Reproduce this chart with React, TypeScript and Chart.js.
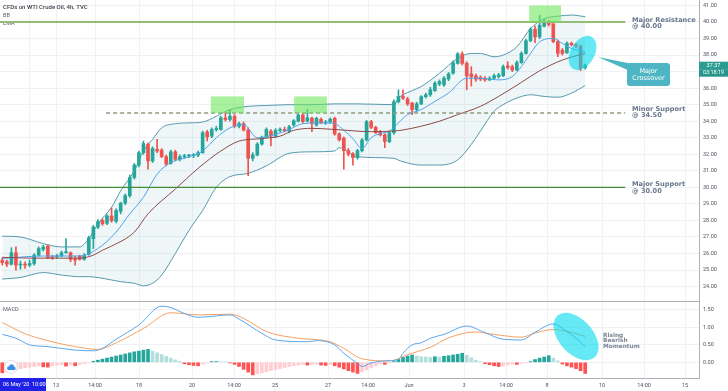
import React, { useEffect, useRef } from 'react';
import { Chart, registerables } from 'chart.js';

Chart.register(...registerables);

// ---------------- data ----------------
const opens = [
  25.60, 25.50, 25.35, 26.05, 25.30, 25.35, 25.30, 25.40, 25.90, 26.25,
  26.45, 25.80, 25.80, 25.85, 26.05, 26.05, 25.65, 25.85, 25.65, 25.95,
  26.90, 27.60, 28.00, 27.83, 28.27, 27.95, 28.55, 29.05, 29.50, 30.60,
  31.35, 32.10, 32.60, 31.60, 32.30, 32.25, 31.86, 31.45, 32.15, 31.70,
  31.85, 31.90, 31.92, 31.95, 32.10, 33.35, 33.10, 33.50, 33.50, 34.20,
  34.10, 34.30, 33.70, 33.85, 33.47, 31.76, 31.96, 32.62, 33.05, 33.40,
  33.10, 33.45, 33.50, 33.40, 33.77, 34.00, 34.38, 34.01, 34.18, 33.77,
  34.12, 33.90, 33.95, 34.18, 33.23, 32.97, 32.22, 32.04, 31.80, 32.22,
  32.87, 33.97, 33.63, 33.35, 33.17, 32.77, 33.31, 35.18, 35.50, 35.35,
  35.10, 34.70, 35.05, 35.48, 35.60, 35.85, 36.25, 36.20, 36.55, 36.90,
  37.50, 38.07, 37.50, 36.86, 36.74, 36.65, 36.60, 36.50, 36.60, 36.70,
  36.75, 37.35, 37.30, 37.10, 37.54, 38.10, 38.87, 39.56, 39.10, 39.75,
  40.05, 39.88, 38.81, 38.30, 38.14, 38.71, 38.62, 38.55, 37.25,
];
const highs = [
  25.75, 25.60, 26.35, 26.40, 25.55, 25.50, 25.60, 26.00, 26.40, 26.50,
  26.50, 25.90, 25.95, 26.15, 26.90, 26.10, 25.85, 25.90, 26.00, 27.05,
  27.70, 28.05, 28.10, 28.35, 28.75, 28.70, 29.10, 29.60, 30.75, 31.45,
  32.20, 32.80, 32.70, 32.45, 32.90, 32.35, 31.95, 32.25, 32.25, 31.95,
  32.00, 32.00, 32.05, 32.20, 33.40, 33.45, 33.60, 33.70, 34.30, 34.55,
  34.70, 34.40, 33.95, 33.95, 33.60, 32.10, 32.70, 33.10, 33.60, 33.50,
  33.55, 33.60, 33.65, 33.75, 34.10, 34.45, 34.45, 34.72, 34.25, 34.25,
  34.20, 34.05, 34.20, 34.25, 33.30, 33.05, 32.35, 32.10, 32.30, 32.95,
  34.05, 34.05, 33.70, 33.45, 33.25, 33.40, 35.30, 35.90, 35.90, 35.45,
  35.15, 35.15, 35.55, 35.70, 36.05, 36.40, 36.50, 36.70, 36.95, 37.65,
  38.15, 38.20, 37.60, 37.30, 36.85, 36.75, 36.70, 36.70, 36.85, 36.90,
  37.40, 37.60, 37.40, 37.65, 38.20, 38.95, 39.65, 39.75, 40.40, 40.20,
  40.10, 39.95, 38.90, 38.40, 38.80, 38.80, 38.70, 38.60, 37.45,
];
const lows = [
  25.30, 25.20, 25.30, 25.00, 25.05, 25.10, 25.20, 25.30, 25.85, 26.15,
  25.70, 25.65, 25.70, 25.80, 26.00, 25.50, 25.30, 25.60, 25.60, 25.90,
  26.30, 27.50, 27.70, 27.75, 27.90, 27.85, 28.40, 28.95, 29.40, 30.50,
  31.25, 32.00, 31.10, 31.50, 32.10, 31.80, 31.30, 31.40, 31.60, 31.60,
  31.75, 31.80, 31.80, 31.85, 32.05, 32.80, 33.00, 33.40, 33.45, 34.00,
  34.00, 33.60, 33.60, 33.40, 30.70, 31.60, 31.90, 32.55, 33.00, 32.50,
  33.00, 33.35, 33.35, 33.30, 33.70, 33.95, 33.90, 33.95, 33.37, 33.70,
  33.85, 33.80, 33.90, 33.15, 32.80, 31.10, 31.90, 31.35, 31.70, 32.15,
  32.80, 33.55, 33.25, 33.10, 32.40, 32.70, 33.20, 35.10, 35.30, 34.95,
  34.40, 34.60, 35.00, 35.40, 35.50, 35.80, 36.15, 36.10, 36.45, 36.85,
  37.45, 37.40, 35.90, 36.13, 36.40, 36.45, 36.40, 36.45, 36.55, 36.60,
  36.70, 37.15, 37.00, 37.05, 37.50, 38.05, 38.80, 38.75, 39.00, 39.70,
  39.75, 38.75, 37.90, 38.00, 38.10, 38.55, 38.45, 37.06, 37.15,
];
const closes = [
  25.45, 25.35, 26.05, 25.30, 25.35, 25.30, 25.40, 25.90, 26.30, 26.40,
  25.75, 25.75, 25.85, 26.05, 26.10, 25.65, 25.60, 25.65, 25.90, 26.95,
  27.60, 27.93, 27.80, 28.27, 27.98, 28.60, 29.05, 29.50, 30.60, 31.35,
  32.10, 32.65, 31.60, 32.35, 32.20, 31.86, 31.41, 32.15, 31.70, 31.85,
  31.90, 31.92, 31.95, 32.10, 33.30, 33.05, 33.50, 33.55, 34.20, 34.10,
  34.30, 33.70, 33.85, 33.47, 31.76, 31.96, 32.62, 33.03, 33.50, 33.10,
  33.45, 33.50, 33.42, 33.67, 34.03, 34.38, 33.97, 34.21, 33.87, 34.18,
  33.90, 33.95, 34.12, 33.23, 32.87, 32.22, 32.02, 31.80, 32.22, 32.87,
  33.97, 33.63, 33.31, 33.17, 32.77, 33.31, 35.18, 35.50, 35.40, 35.05,
  34.70, 35.05, 35.48, 35.60, 35.90, 36.30, 36.40, 36.60, 36.86, 37.54,
  38.07, 37.50, 36.74, 36.69, 36.54, 36.55, 36.50, 36.60, 36.75, 36.80,
  37.30, 37.25, 37.10, 37.54, 38.10, 38.87, 39.56, 39.10, 39.80, 40.05,
  39.85, 38.81, 38.10, 38.10, 38.71, 38.62, 38.55, 37.20, 37.37,
];

// Bollinger bands (read at sampled bars)
const bandIdx = [0, 4, 9, 13, 17, 19, 21, 24, 26, 29, 31, 33, 35, 38, 41, 44, 47, 50, 54, 58, 63, 68, 73, 74, 78, 86, 87, 88, 92, 96, 100, 103, 105, 108, 110, 113, 116, 119, 122, 125, 128];
const upperVal = [27.05, 27.0, 26.6, 26.4, 26.4, 26.9, 27.8, 28.8, 29.8, 31.0, 32.2, 32.9, 33.6, 33.85, 33.9, 33.95, 34.3, 34.7, 34.9, 34.95, 35.0, 35.0, 35.05, 35.05, 35.05, 35.0, 35.4, 35.6, 36.1, 36.9, 37.8, 38.1, 38.1, 37.9, 38.0, 38.5, 39.6, 40.2, 40.35, 40.42, 40.32];
const lowerVal = [24.46, 24.55, 24.85, 24.7, 24.6, 24.6, 24.55, 24.4, 24.3, 24.2, 24.05, 24.2, 24.7, 26.0, 27.4, 28.6, 30.0, 30.65, 30.85, 31.3, 32.06, 32.15, 32.2, 32.4, 31.85, 31.76, 31.65, 31.55, 31.35, 31.35, 31.66, 32.6, 33.4, 34.6, 35.0, 35.4, 35.6, 35.5, 35.45, 35.7, 36.15];
const basisIdx = [0, 7, 17, 20, 22, 24, 29, 32, 38, 43, 48, 52, 57, 61, 64, 68, 73, 81, 86, 88, 92, 96, 100, 105, 109, 114, 118, 123, 128];
const basisVal = [25.77, 25.72, 25.72, 25.9, 26.2, 26.45, 27.3, 28.4, 29.9, 31.15, 32.2, 32.8, 32.95, 33.1, 33.45, 33.57, 33.5, 33.37, 33.41, 33.47, 33.7, 34.0, 34.4, 34.9, 35.5, 36.35, 37.05, 37.7, 38.1];
const emaIdx = [0, 9, 17, 21, 25, 28, 31, 34, 37, 41, 44, 47, 50, 53, 56, 60, 63, 66, 70, 73, 75, 77, 79, 81, 83, 85, 87, 89, 92, 95, 98, 102, 105, 109, 112, 114, 116, 118, 121, 123, 125, 128];
const emaVal = [25.7, 25.85, 25.85, 26.3, 27.3, 28.4, 29.4, 30.8, 31.5, 31.85, 32.2, 33.0, 33.6, 33.8, 33.0, 33.2, 33.5, 33.85, 33.9, 33.85, 33.45, 32.95, 32.35, 33.0, 33.25, 33.4, 33.9, 34.4, 34.7, 35.2, 35.7, 36.6, 36.6, 36.5, 36.7, 37.3, 38.1, 38.8, 39.0, 38.7, 38.4, 38.2];

// MACD pane
const histVals = [
  -0.30, -0.27, -0.24, -0.21, -0.18, -0.16, -0.14, -0.12, -0.10, -0.13,
  -0.14, -0.10, -0.08, -0.07, -0.11, -0.07, -0.10, -0.06, -0.04, -0.02,
  0.03, 0.06, 0.09, 0.12, 0.15, 0.18, 0.21, 0.24, 0.27, 0.30,
  0.32, 0.35, 0.37, 0.32, 0.27, 0.22, 0.17, 0.12, 0.07, 0.03,
  -0.04, -0.07, -0.09, -0.10, -0.05, -0.02, 0.02, 0.02, 0.015, 0.01,
  -0.02, -0.06, -0.12, -0.20, -0.28, -0.36, -0.33, -0.30, -0.27, -0.24,
  -0.21, -0.18, -0.15, -0.12, -0.10, -0.08, -0.06, -0.08, -0.06, -0.05,
  -0.08, -0.09, -0.06, -0.10, -0.14, -0.19, -0.24, -0.28, -0.32, -0.27,
  -0.22, -0.16, -0.10, -0.05, -0.06, -0.02, 0.02, 0.08, 0.14, 0.18,
  0.21, 0.18, 0.16, 0.15, 0.14, 0.16, 0.15, 0.17, 0.19, 0.21,
  0.23, 0.26, 0.20, 0.13, 0.06, 0.02, -0.04, -0.07, -0.10, -0.12,
  -0.11, -0.08, -0.05, -0.06, -0.03, -0.01, 0.02, 0.08, 0.12, 0.15,
  0.19, 0.12, 0.04, -0.05, -0.10, -0.14, -0.18, -0.24, -0.32,
];
const macdIdx = [0, 3, 6, 10, 16, 20, 22, 25, 30, 35, 37, 40, 43, 47, 50, 52, 57, 60, 67, 69, 73, 75, 78, 79, 81, 84, 87, 88, 90, 92, 94, 97, 102, 106, 110, 114, 117, 121, 124, 126, 128];
const macdVal = [0.80, 0.69, 0.50, 0.45, 0.35, 0.33, 0.40, 0.66, 1.07, 1.61, 1.57, 1.40, 1.29, 1.33, 1.36, 1.24, 0.83, 0.64, 0.59, 0.62, 0.50, 0.26, -0.03, -0.12, -0.02, 0.04, 0.08, 0.26, 0.50, 0.56, 0.69, 0.80, 1.04, 0.85, 0.66, 0.64, 0.86, 1.10, 0.88, 0.69, 0.45];
const signalIdx = [0, 5, 10, 16, 21, 25, 31, 37, 43, 50, 53, 58, 65, 72, 75, 79, 85, 89, 94, 98, 104, 108, 114, 117, 121, 124, 128];
const signalVal = [1.14, 0.82, 0.62, 0.45, 0.37, 0.56, 0.97, 1.42, 1.36, 1.38, 1.26, 0.88, 0.69, 0.59, 0.40, 0.10, 0.04, 0.22, 0.43, 0.70, 0.87, 0.80, 0.72, 0.84, 0.94, 0.89, 0.74];

// axes
const tickPos = [5.87, 11.8, 20.37, 30.03, 41.67, 50.89, 59.9, 71.54, 80.33, 89.33, 101.41, 110.64, 119.64, 131.72, 140.94, 149.95];
const tickLabels = ['12', '13', '14:00', '18', '20', '14:00', '25', '27', '14:00', 'Jun', '3', '14:00', '8', '10', '14:00', '15'];
const priceTicks = [24, 25, 26, 27, 28, 29, 30, 31, 32, 33, 34, 35, 36, 37, 38, 39, 40, 41];
const macdTicks = [0, 0.5, 1, 1.5];

// horizontal levels and highlighted zones
const levelValues = [40, 34.5, 30];
const levelStart = [-0.5, 22.8, -0.5];
const levelEnd = [136.8, 136.8, 136.8];
const zoneStart = [45.8, 64.1, 115.7];
const zoneEnd = [53.1, 71.3, 122.7];
const zoneLow = [34.5, 34.5, 40];
const zoneHigh = [35.5, 35.5, 41];

// ---------------- style ----------------
const UP = '#26a69a';
const DOWN = '#ef5350';
const FONT = 'Roboto, "DejaVu Sans", sans-serif';
const ANN_FONT = '"DejaVu Sans", sans-serif';
const AX_TEXT = '#50535e';
const GRID = '#eff1f5';
const BORDER = '#aeb1ba';
const X_MIN = -0.5;
const X_MAX = 153.0;

const idx = opens.map((_, i) => i);
const pts = (xs: number[], ys: number[]) => xs.map((x, i) => ({ x, y: ys[i] }));
const candleColor = (i: number) => (closes[i] >= opens[i] ? UP : DOWN);
const histColor = (i: number) => {
  const v = histVals[i];
  const p = i > 0 ? histVals[i - 1] : 0;
  if (v >= 0) return v >= p ? '#26a69a' : '#b2dfdb';
  return v < p ? '#ff5252' : '#ffcdd2';
};

function zeroPad(ax: any) {
  ax.paddingTop = 0;
  ax.paddingBottom = 0;
  ax.paddingLeft = 0;
  ax.paddingRight = 0;
}

function rrect(ctx: any, x: number, y: number, w: number, h: number, r: number) {
  ctx.beginPath();
  ctx.moveTo(x + r, y);
  ctx.lineTo(x + w - r, y);
  ctx.quadraticCurveTo(x + w, y, x + w, y + r);
  ctx.lineTo(x + w, y + h - r);
  ctx.quadraticCurveTo(x + w, y + h, x + w - r, y + h);
  ctx.lineTo(x + r, y + h);
  ctx.quadraticCurveTo(x, y + h, x, y + h - r);
  ctx.lineTo(x, y + r);
  ctx.quadraticCurveTo(x, y, x + r, y);
  ctx.closePath();
}

const mainDecor = {
  id: 'mainDecor',
  beforeDatasetsDraw(chart: any) {
    const ctx = chart.ctx;
    ctx.save();
    ctx.textBaseline = 'middle';
    ctx.textAlign = 'left';
    ctx.font = `500 6px ${FONT}`;
    ctx.fillStyle = '#3a3d45';
    ctx.fillText('CFDs on WTI Crude Oil, 4h, TVC', 3, 7.5);
    ctx.font = `5.5px ${FONT}`;
    ctx.fillStyle = '#5d606b';
    ctx.fillText('BB', 3, 15.5);
    ctx.fillText('EMA', 3, 23.5);
    ctx.restore();
  },
  afterDatasetsDraw(chart: any) {
    const { ctx, scales } = chart;
    const xs = scales.x;
    const ys = scales.y;
    ctx.save();
    // highlighted zones
    ctx.fillStyle = 'rgba(112, 232, 92, 0.6)';
    for (let k = 0; k < zoneStart.length; k++) {
      const x0 = xs.getPixelForValue(zoneStart[k]);
      const x1 = xs.getPixelForValue(zoneEnd[k]);
      const y0 = ys.getPixelForValue(zoneHigh[k]);
      const y1 = ys.getPixelForValue(zoneLow[k]);
      ctx.fillRect(x0, y0, x1 - x0, y1 - y0);
    }
    // crossover ellipse
    ctx.beginPath();
    ctx.ellipse(582.5, 53, 18.5, 12, -Math.PI / 3, 0, Math.PI * 2);
    ctx.fillStyle = 'rgba(0, 218, 238, 0.6)';
    ctx.fill();
    // callout
    ctx.fillStyle = '#4db5c3';
    ctx.beginPath();
    ctx.moveTo(598, 57);
    ctx.lineTo(630, 63.5);
    ctx.lineTo(630, 71);
    ctx.closePath();
    ctx.fill();
    rrect(ctx, 627, 63, 43, 23, 3);
    ctx.fill();
    ctx.fillStyle = '#ffffff';
    ctx.textAlign = 'center';
    ctx.textBaseline = 'middle';
    ctx.font = `6.5px ${ANN_FONT}`;
    ctx.fillText('Major', 648.5, 71);
    ctx.fillText('Crossover', 648.5, 78.5);
    // level labels
    ctx.textAlign = 'left';
    ctx.fillStyle = '#67768a';
    ctx.font = `bold 6.6px ${ANN_FONT}`;
    ctx.fillText('Major Resistance', 632, 20);
    ctx.fillText('@ 40.00', 632, 26.7);
    ctx.fillText('Minor Support', 632, 109);
    ctx.fillText('@ 34.50', 632, 115.5);
    ctx.fillText('Major Support', 632, 184.3);
    ctx.fillText('@ 30.00', 632, 190.8);
    ctx.restore();
  },
  afterDraw(chart: any) {
    const { ctx, scales } = chart;
    const py = scales.y.getPixelForValue(closes[closes.length - 1]);
    const left = chart.chartArea.right;
    const w = chart.width - left;
    ctx.save();
    ctx.fillStyle = '#2a9d90';
    ctx.fillRect(left, py - 3.8, w, 7.5);
    ctx.fillStyle = '#26968a';
    ctx.fillRect(left, py + 3.7, w, 7.5);
    ctx.fillStyle = '#ffffff';
    ctx.font = `5.5px ${FONT}`;
    ctx.textAlign = 'center';
    ctx.textBaseline = 'middle';
    ctx.fillText(closes[closes.length - 1].toFixed(2), left + w / 2, py);
    ctx.fillText('03:18:19', left + w / 2, py + 7.5);
    ctx.restore();
  },
};

const macdDecor = {
  id: 'macdDecor',
  afterDatasetsDraw(chart: any) {
    const ctx = chart.ctx;
    ctx.save();
    ctx.font = `5.5px ${FONT}`;
    ctx.fillStyle = '#5d606b';
    ctx.textBaseline = 'middle';
    ctx.textAlign = 'left';
    ctx.fillText('MACD', 3, 7.5);
    // momentum ellipse
    ctx.beginPath();
    ctx.ellipse(576, 34.5, 28, 17, (48 * Math.PI) / 180, 0, Math.PI * 2);
    ctx.fillStyle = 'rgba(0, 218, 238, 0.6)';
    ctx.fill();
    ctx.fillStyle = '#7a8594';
    ctx.font = `bold 5.8px ${ANN_FONT}`;
    ctx.fillText('Rising', 603, 33);
    ctx.fillText('Bearish', 603, 38.7);
    ctx.fillText('Momentum', 603, 44.3);
    // cloud badge
    ctx.beginPath();
    ctx.arc(11, 65, 6.5, 0, Math.PI * 2);
    ctx.fillStyle = '#ffffff';
    ctx.fill();
    ctx.strokeStyle = '#d5d8de';
    ctx.lineWidth = 0.8;
    ctx.stroke();
    ctx.fillStyle = '#3b8fe8';
    ctx.beginPath();
    ctx.arc(9, 66.2, 1.9, 0, Math.PI * 2);
    ctx.arc(11.6, 64.8, 2.5, 0, Math.PI * 2);
    ctx.arc(14, 66.4, 1.7, 0, Math.PI * 2);
    ctx.fill();
    ctx.fillRect(8.8, 66.2, 5.4, 1.9);
    ctx.restore();
  },
  afterDraw(chart: any) {
    const ctx = chart.ctx;
    const top = chart.chartArea.bottom;
    ctx.save();
    ctx.fillStyle = '#1f22e6';
    ctx.fillRect(0, top, 46, chart.height - top);
    ctx.fillStyle = '#ffffff';
    ctx.font = `5.5px ${FONT}`;
    ctx.textBaseline = 'middle';
    ctx.textAlign = 'left';
    const cy = top + (chart.height - top) / 2;
    ctx.fillText("06 May '20", 3, cy);
    ctx.fillText('10:00', 32, cy);
    ctx.restore();
  },
};

function xAxis(showLabels: boolean): any {
  return {
    type: 'linear',
    min: X_MIN,
    max: X_MAX,
    offset: false,
    afterBuildTicks: (ax: any) => {
      ax.ticks = tickPos.map((v) => ({ value: v }));
    },
    afterFit: (ax: any) => {
      ax.height = showLabels ? 13 : 1;
      zeroPad(ax);
    },
    ticks: {
      display: showLabels,
      autoSkip: false,
      maxRotation: 0,
      padding: 4,
      font: { size: 5.5, family: FONT },
      color: AX_TEXT,
      callback: (_v: any, i: number) => tickLabels[i],
    },
    grid: { color: GRID, drawTicks: false, offset: false },
    border: { display: true, color: BORDER },
  };
}

function yAxis(min: number, max: number, ticks: number[]): any {
  return {
    type: 'linear',
    position: 'right',
    min,
    max,
    afterBuildTicks: (ax: any) => {
      ax.ticks = ticks.map((v) => ({ value: v }));
    },
    afterFit: (ax: any) => {
      ax.width = 29;
      zeroPad(ax);
    },
    ticks: {
      padding: 4,
      crossAlign: 'near',
      font: { size: 5.5, family: FONT },
      color: AX_TEXT,
      callback: (v: any) => Number(v).toFixed(2),
    },
    grid: { color: GRID, drawTicks: false },
    border: { display: true, color: BORDER },
  };
}

const baseOptions = {
  responsive: false,
  animation: false,
  devicePixelRatio: 1,
  events: [],
  layout: { padding: 0 },
  plugins: { legend: { display: false }, tooltip: { enabled: false } },
};

export default function App() {
  const mainRef = useRef<HTMLCanvasElement>(null);
  const macdRef = useRef<HTMLCanvasElement>(null);

  useEffect(() => {
    const lineBase = { type: 'line', pointRadius: 0, borderWidth: 1, cubicInterpolationMode: 'monotone' };
    const levelColors = ['#93bd72', '#8e9c7a', '#478a38'];
    const levelWidths = [2, 1.5, 1.2];
    const levelDash = [[], [4, 3], []];

    const main = new Chart(mainRef.current as HTMLCanvasElement, {
      type: 'line',
      data: {
        datasets: [
          { ...lineBase, label: 'BB upper', data: pts(bandIdx, upperVal), borderColor: '#5799ad', fill: false, order: 10 },
          {
            ...lineBase, label: 'BB lower', data: pts(bandIdx, lowerVal), borderColor: '#5799ad',
            fill: '-1', backgroundColor: 'rgba(70, 150, 180, 0.09)', order: 9,
          },
          {
            type: 'bar', label: 'wick', data: idx.map((i) => ({ x: i, y: [lows[i], highs[i]] })),
            backgroundColor: (c: any) => candleColor(c.dataIndex), barThickness: 1, grouped: false, order: 6,
          },
          {
            type: 'bar', label: 'body', data: idx.map((i) => ({ x: i, y: [opens[i], closes[i]] })),
            backgroundColor: (c: any) => candleColor(c.dataIndex), barThickness: 3, minBarLength: 1, grouped: false, order: 5,
          },
          { ...lineBase, label: 'BB basis', data: pts(basisIdx, basisVal), borderColor: '#8d4a46', fill: false, order: 3 },
          { ...lineBase, label: 'EMA', data: pts(emaIdx, emaVal), borderColor: '#4fa3ec', fill: false, order: 3 },
          ...levelValues.map((v, k) => ({
            type: 'line', label: 'level ' + v, pointRadius: 0, fill: false,
            data: [{ x: levelStart[k], y: v }, { x: levelEnd[k], y: v }],
            borderColor: levelColors[k], borderWidth: levelWidths[k], borderDash: levelDash[k], order: 2,
          })),
        ],
      } as any,
      options: {
        ...baseOptions,
        scales: { x: xAxis(false), y: yAxis(23.13, 41.33, priceTicks) },
      } as any,
      plugins: [mainDecor],
    });

    const macd = new Chart(macdRef.current as HTMLCanvasElement, {
      type: 'line',
      data: {
        datasets: [
          {
            type: 'bar', label: 'Histogram', data: idx.map((i) => ({ x: i, y: histVals[i] })),
            backgroundColor: (c: any) => histColor(c.dataIndex), barThickness: 3, grouped: false, order: 3,
          },
          { ...lineBase, label: 'MACD', data: pts(macdIdx, macdVal), borderColor: '#58a6ee', fill: false, order: 1 },
          { ...lineBase, label: 'Signal', data: pts(signalIdx, signalVal), borderColor: '#f6a060', fill: false, order: 2 },
        ],
      } as any,
      options: {
        ...baseOptions,
        scales: { x: xAxis(true), y: yAxis(-0.45, 1.729, macdTicks) },
      } as any,
      plugins: [macdDecor],
    });

    return () => {
      main.destroy();
      macd.destroy();
    };
  }, []);

  return (
    <div style={{ position: 'absolute', left: 0, top: 0, width: 728, height: 391, background: '#ffffff', overflow: 'hidden' }}>
      <canvas ref={mainRef} width={728} height={302} style={{ display: 'block', width: 728, height: 302 }} />
      <canvas ref={macdRef} width={728} height={89} style={{ display: 'block', width: 728, height: 89 }} />
    </div>
  );
}
